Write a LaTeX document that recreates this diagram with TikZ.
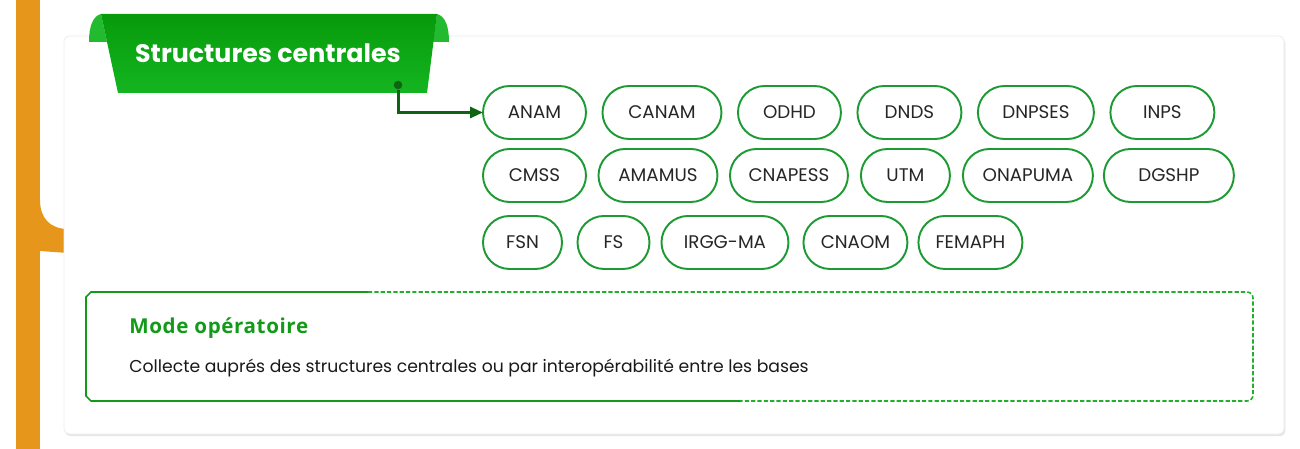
\documentclass[tikz,border=0pt]{standalone}
\usepackage{fontspec}
\setmainfont{Poppins}
\newfontfamily\headfont[LetterSpace=3]{Open Sans}
\usetikzlibrary{positioning, arrows.meta, shadows}

\definecolor{barorange}{HTML}{E6961A}
\definecolor{bandark}{HTML}{079A0B}
\definecolor{banlight}{HTML}{14B521}
\definecolor{banear}{HTML}{22BA2E}
\definecolor{pillgreen}{HTML}{1E9A35}
\definecolor{linkgreen}{HTML}{0E6413}
\definecolor{modegreen}{HTML}{129A18}
\definecolor{dashgreen}{HTML}{22B02B}

\begin{document}
\begin{tikzpicture}[
      x=0.02cm, y=-0.02cm,
      pill/.style={draw=pillgreen, line width=1.1pt, rounded corners=0.53cm,
      minimum height=1.06cm, inner sep=0pt, outer sep=0pt, fill=white,
      font=\fontsize{10.4}{12}\selectfont, text=black!85},
      card/.style={fill=white, draw=black!7, line width=0.5pt, rounded corners=0.1cm,
      drop shadow={opacity=0.2, shadow xshift=0.7pt, shadow yshift=-1.2pt}},
      link/.style={linkgreen, line width=1.7pt,
      -{Triangle[length=2.6mm, width=2.2mm]}},
      solidedge/.style={modegreen, line width=0.9pt},
      dashedge/.style={dashgreen, line width=0.9pt, dash pattern=on 2.4pt off 1.2pt}
    ]
    \useasboundingbox (0,0) rectangle (1300,449);

    % timeline bar on the left
    \fill[barorange] (16,0) rectangle (40,449);
    \fill[barorange] (40,200) .. controls (40,218) and (50,229) .. (68,229)
      -- (68,253) -- (40,251) -- cycle;

    % card
    \path[card] (64,36) rectangle (1284,434);

    % banner with its folded ears
    \fill[banear] (107,42) -- (89,42) .. controls (89,26) and (93,16) .. (101,14) -- cycle;
    \fill[banear] (433,42) -- (449,42) .. controls (449,26) and (445,16) .. (437,14) -- cycle;
    \shade[top color=bandark, bottom color=banlight]
      (101,14) -- (437,14) -- (427,93) -- (118,93) -- cycle;
    \node[anchor=base, text=white, font=\fontsize{14.4}{16}\selectfont\bfseries]
      (bannertitle) at (268,63) {Structures centrales};
    \node[circle, fill=linkgreen, inner sep=0pt, minimum size=0.17cm] (dot) at (398,85) {};

    % first row
    \node[pill, minimum width=2.06cm] (ANAM) at (534.5,112.5) {ANAM};
    \node[pill, minimum width=2.38cm, right=0.33cm of ANAM] (CANAM) {CANAM};
    \node[pill, minimum width=2.06cm, right=0.33cm of CANAM] (ODHD) {ODHD};
    \node[pill, minimum width=2.08cm, right=0.33cm of ODHD] (DNDS) {DNDS};
    \node[pill, minimum width=2.32cm, right=0.33cm of DNDS] (DNPSES) {DNPSES};
    \node[pill, minimum width=2.08cm, right=0.33cm of DNPSES] (INPS) {INPS};

    % second row
    \node[pill, minimum width=2.06cm, below=0.2cm of ANAM] (CMSS) {CMSS};
    \node[pill, minimum width=2.38cm, right=0.25cm of CMSS] (AMAMUS) {AMAMUS};
    \node[pill, minimum width=2.36cm, right=0.25cm of AMAMUS] (CNAPESS) {CNAPESS};
    \node[pill, minimum width=1.78cm, right=0.26cm of CNAPESS] (UTM) {UTM};
    \node[pill, minimum width=2.60cm, right=0.26cm of UTM] (ONAPUMA) {ONAPUMA};
    \node[pill, minimum width=2.60cm, right=0.22cm of ONAPUMA] (DGSHP) {DGSHP};

    % third row
    \node[pill, minimum width=1.58cm, below=0.28cm of CMSS.south west,
      anchor=north west] (FSN) {FSN};
    \node[pill, minimum width=1.44cm, right=0.31cm of FSN] (FS) {FS};
    \node[pill, minimum width=2.54cm, right=0.24cm of FS] (IRGGMA) {IRGG-MA};
    \node[pill, minimum width=2.08cm, right=0.3cm of IRGGMA] (CNAOM) {CNAOM};
    \node[pill, minimum width=2.08cm, right=0.22cm of CNAOM] (FEMAPH) {FEMAPH};

    \draw[link] (dot) |- (ANAM.west);

    % mode operatoire box
    \draw[dashedge, rounded corners=0.12cm]
      (368,292) -- (1253,292) -- (1253,401) -- (740,401);
    \draw[solidedge] (368,292) -- (91,292) -- (86,297) -- (86,396)
      -- (91,401) -- (740,401);
    \node[anchor=base west, inner sep=0pt, text=modegreen,
      font=\headfont\fontsize{11.7}{13}\selectfont\bfseries]
      (modetitle) at (129,333) {Mode opératoire};
    \node[anchor=base west, inner sep=0pt, text=black!90,
      font=\fontsize{9.8}{11}\selectfont]
      (modetext) at (129,372)
      {Collecte auprés des structures centrales ou par interopérabilité entre les bases};
  \end{tikzpicture}
\end{document}
